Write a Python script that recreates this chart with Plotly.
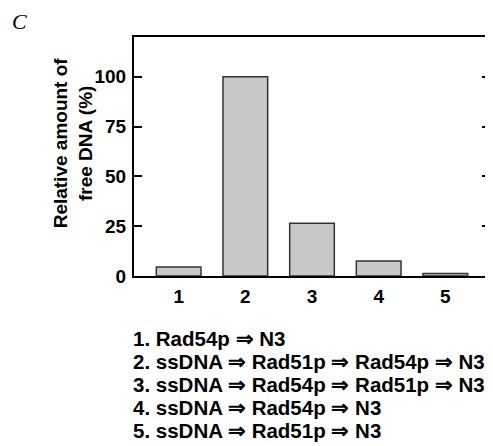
import plotly.graph_objects as go

categories = [1, 2, 3, 4, 5]
values = [4.5, 100, 26.5, 7.5, 1.2]
tick_vals = [0, 25, 50, 75, 100]
legend_lines = [
    "1. Rad54p ⇒ N3",
    "2. ssDNA ⇒ Rad51p ⇒ Rad54p ⇒ N3",
    "3. ssDNA ⇒ Rad54p ⇒ Rad51p ⇒ N3",
    "4. ssDNA ⇒ Rad54p ⇒ N3",
    "5. ssDNA ⇒ Rad51p ⇒ N3",
]

# page body has an 8px default margin; compensate
OFF = 8
W, H = 493 - OFF, 446 - OFF
L, R, T, B = 134 - OFF, 1, 37 - OFF, 170
PW, PH = W - L - R, H - T - B


def px(xpage):
    return (xpage - OFF - L) / PW


def py(ypage):
    return (H - B - (ypage - OFF)) / PH


fig = go.Figure(go.Bar(
    x=categories, y=values, width=0.67,
    marker=dict(color="#c8c8c8", line=dict(color="#333333", width=1.5)),
))

FAM = "Liberation Sans, Arial"
tick_font = dict(family=FAM, size=19, color="black")
leg_font = dict(family=FAM, size=20.5, color="black")

fig.update_layout(
    width=W, height=H,
    margin=dict(l=L, r=R, t=T, b=B),
    plot_bgcolor="white", paper_bgcolor="white",
    showlegend=False,
    font=tick_font,
    xaxis=dict(range=[0.33, 5.67], tickvals=categories, ticktext=[f"<b>{c}</b>" for c in categories],
               showline=True, linecolor="black", linewidth=2, mirror=True,
               ticks="", showgrid=False, zeroline=False, ticklabelstandoff=2,
               tickfont=tick_font),
    yaxis=dict(range=[0, 120], tickvals=tick_vals, ticktext=[f"<b>{v}</b>" for v in tick_vals],
               showline=True, linecolor="black", linewidth=2, mirror="ticks",
               ticks="inside", ticklen=8, tickwidth=2, tickcolor="black",
               showgrid=False, zeroline=False, ticklabelstandoff=2,
               tickfont=tick_font),
)

# y-axis title
fig.add_annotation(
    text="<b>Relative amount of<br>free DNA (%)</b>",
    xref="paper", yref="paper", x=px(73), y=py(143), textangle=-90,
    showarrow=False, xanchor="center", yanchor="middle",
    font=dict(family=FAM, size=19, color="black"),
)

# panel label
fig.add_annotation(
    text="<i>C</i>", xref="paper", yref="paper",
    x=px(19), y=py(21), showarrow=False, xanchor="center", yanchor="middle",
    font=dict(family="Liberation Serif, serif", size=22, color="black"),
)

# legend text lines
for i, line in enumerate(legend_lines):
    fig.add_annotation(
        text=f"<b>{line}</b>", xref="paper", yref="paper",
        x=px(131), y=py(338 + i * 23.0), showarrow=False,
        xanchor="left", yanchor="middle", font=leg_font,
    )

fig.write_html("out.html")
